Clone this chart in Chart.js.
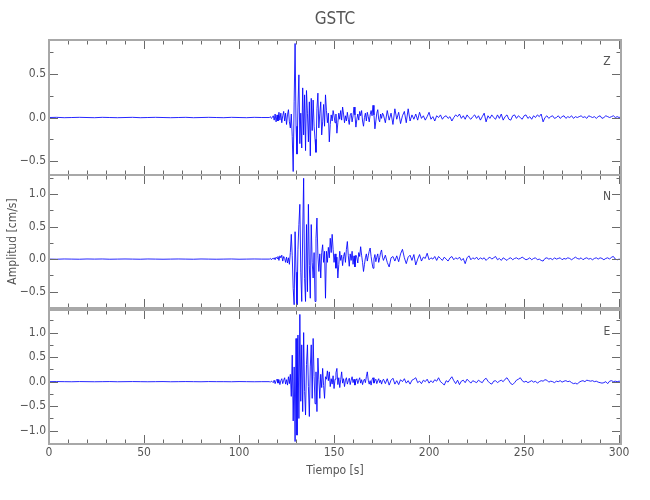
<!DOCTYPE html>
<html><head><meta charset="utf-8">
<script src="https://cdn.jsdelivr.net/npm/chart.js@4.4.1/dist/chart.umd.min.js"></script>
<style>
html,body{margin:0;padding:0;background:#fff;}
#wrap{position:relative;width:650px;height:500px;}
#wrap canvas{position:absolute;left:0;top:0;}
</style></head><body>
<div id="wrap">
<canvas id="cZ" width="650" height="500"></canvas>
<canvas id="cN" width="650" height="500"></canvas>
<canvas id="cE" width="650" height="500"></canvas>
</div>
<script>
// Sampling of the three read-off segments: pre-event, strong motion, coda (seconds)
const segStart = [0, 116, 176];
const segStep  = [4, 0.5, 1];

// ---- Z component ----
const preZ = [0.00,0.002,-0.002,0.00,0.002,0.00,-0.002,0.002,0.00,-0.002,0.00,0.002,-0.002,0.00,0.002,0.00,-0.002,0.00,0.002,-0.002,0.00,0.002,0.00,-0.002,0.002,0.00,-0.002,0.002,0.00];
const mainZ = [
 0.00,0.01,-0.01,0.00,0.02,-0.03,0.04,-0.05,0.03,-0.04,
 0.06,-0.03,0.05,-0.06,0.02,0.07,-0.04,0.05,-0.08,0.03,
 0.09,-0.05,-0.12,0.04,-0.22,-0.62,0.18,0.85,-0.10,-0.42,
 0.12,0.49,-0.30,0.05,-0.35,0.34,-0.20,0.26,-0.38,0.31,
 0.05,-0.28,0.18,-0.44,0.22,-0.15,0.20,-0.10,-0.25,-0.40,
 0.10,0.28,-0.12,0.05,0.18,-0.20,-0.05,0.15,-0.10,0.26,
 0.08,-0.06,0.05,-0.28,-0.08,0.03,-0.04,0.08,0.02,-0.06,
 0.04,-0.18,-0.06,0.05,-0.02,0.08,-0.03,0.12,0.04,-0.06,
 0.02,-0.04,0.06,-0.02,-0.08,0.03,0.05,-0.05,0.02,0.12,
 0.03,-0.11,-0.02,0.04,-0.03,0.07,0.02,0.08,-0.04,-0.10,
 0.00,0.05,-0.04,0.06,0.01,-0.05,0.03,0.08,0.02,0.14,
 0.03,-0.13,-0.04,0.05,0.09,-0.02,-0.05,0.04,-0.01,0.05];
const codaZ = [
 0.03,-0.06,0.08,-0.03,0.05,-0.08,0.10,-0.02,0.06,-0.07,
 0.02,0.07,-0.06,0.10,-0.04,0.03,-0.02,0.04,-0.03,0.06,
 -0.01,0.02,-0.03,0.01,0.06,-0.02,0.01,-0.04,0.02,0.00,
 0.03,-0.02,0.01,0.02,-0.01,0.01,-0.04,0.00,0.03,0.01,
 0.04,-0.01,0.02,-0.02,0.03,0.00,-0.02,0.01,0.03,-0.01,
 0.02,-0.03,0.01,0.05,-0.05,0.02,-0.01,0.03,0.00,-0.02,
 0.03,-0.01,0.04,-0.03,0.01,0.03,-0.02,-0.03,0.02,0.03,
 -0.01,0.02,0.00,-0.02,0.02,0.03,-0.01,0.01,-0.02,0.02,
 0.00,0.03,0.01,0.04,-0.05,0.00,0.02,-0.01,0.01,0.02,
 -0.01,0.00,0.02,-0.01,0.01,0.02,-0.01,0.01,0.00,0.02,
 -0.01,0.01,0.00,0.01,0.02,0.00,0.01,-0.01,0.02,0.01,
 0.00,0.01,-0.01,0.01,0.02,-0.01,0.00,0.02,0.01,0.00,
 0.01,0.02,0.00,0.01,0.00,0.01];

// ---- N component ----
const preN = [0.00,-0.002,0.002,0.00,-0.002,0.002,0.00,0.002,-0.002,0.00,0.002,0.00,-0.002,0.002,0.00,-0.002,0.00,0.002,0.00,-0.002,0.002,0.00,-0.002,0.00,0.002,-0.002,0.00,0.002,0.00];
const mainN = [
 0.00,0.01,-0.01,0.01,0.00,0.02,-0.01,0.03,0.01,0.04,
 -0.02,0.05,0.02,0.06,-0.03,0.04,0.01,-0.05,0.03,-0.06,
 0.02,-0.08,0.10,0.38,0.05,-0.45,-0.70,0.42,-0.20,-0.70,
 0.15,0.53,0.84,-0.20,-0.65,0.40,1.24,-0.30,-0.65,0.53,
 -0.50,0.84,-0.10,-0.60,0.53,-0.05,-0.29,0.10,-0.65,0.32,
 0.63,0.05,-0.19,0.08,-0.29,0.10,0.22,-0.05,0.12,-0.60,
 0.12,-0.05,0.18,0.02,0.32,0.10,0.38,0.15,-0.05,0.08,
 -0.14,0.03,-0.29,-0.08,0.12,-0.02,0.06,-0.10,0.04,0.10,
 -0.05,0.15,0.27,0.05,-0.11,0.08,-0.02,0.12,-0.08,0.05,
 -0.12,0.06,0.02,-0.06,0.10,0.04,0.19,0.06,-0.05,-0.19,
 -0.08,0.02,0.08,-0.03,0.05,0.12,0.17,0.04,-0.06,-0.14,
 0.00,0.07,-0.04,0.03,0.08,-0.05,0.02,0.10,0.14,0.03];
const codaN = [
 -0.02,0.06,-0.05,-0.12,0.02,0.04,-0.03,0.05,-0.04,0.08,
 0.15,0.02,-0.07,0.03,0.06,-0.02,0.07,-0.09,0.00,0.07,
 -0.03,0.03,0.01,0.09,-0.01,0.02,0.00,0.04,-0.02,0.04,
 0.01,-0.02,0.03,0.00,-0.03,0.02,0.04,-0.01,0.02,0.00,
 0.03,-0.02,0.01,-0.07,0.02,0.05,-0.01,0.02,0.00,0.03,
 -0.01,0.02,0.00,0.02,-0.02,0.01,0.03,0.00,0.02,0.04,
 -0.01,0.01,-0.02,0.02,0.00,-0.02,0.01,0.02,-0.01,0.01,
 0.02,0.00,0.01,0.03,0.01,-0.01,0.00,0.02,-0.01,0.01,
 0.02,-0.01,0.00,-0.02,-0.03,0.01,0.02,0.00,0.01,-0.01,
 0.02,0.00,0.01,0.02,-0.01,0.01,0.00,0.02,0.01,-0.01,
 0.01,0.03,0.01,0.00,0.02,-0.01,0.01,0.02,0.00,0.01,
 -0.01,0.01,0.02,0.00,0.02,0.01,-0.01,0.01,0.02,0.00,
 0.03,0.04,0.00,-0.01,0.00,-0.01];

// ---- E component ----
const preE = [0.00,0.002,0.00,-0.002,0.002,0.00,-0.002,0.00,0.002,-0.002,0.00,0.002,0.00,-0.002,0.00,0.002,-0.002,0.00,0.002,0.00,-0.002,0.002,0.00,0.00,-0.002,0.002,0.00,-0.002,0.00];
const mainE = [
 0.00,-0.01,0.01,0.00,-0.02,0.03,-0.04,0.02,0.05,-0.03,
 0.04,-0.06,0.02,0.06,-0.04,0.03,0.08,-0.05,0.04,-0.07,
 0.10,-0.04,0.15,-0.30,0.54,-0.80,0.30,-1.22,0.88,-1.09,
 0.95,-0.75,1.37,-0.40,0.75,-0.61,1.00,-0.20,-0.68,0.35,
 0.75,-0.10,-0.71,0.30,0.75,-0.34,0.88,0.10,-0.45,0.20,
 -0.61,0.48,0.05,-0.34,0.15,-0.12,0.27,-0.08,-0.34,0.10,
 0.05,0.22,0.02,0.20,-0.10,0.06,-0.05,0.12,-0.14,0.05,
 0.18,0.27,-0.06,0.08,-0.12,0.04,0.20,-0.03,0.06,-0.10,
 0.03,0.08,-0.05,0.02,0.07,-0.06,0.03,0.10,-0.02,0.05,
 -0.07,0.02,0.06,-0.04,0.03,0.08,-0.03,0.04,-0.06,0.02,
 0.05,-0.02,0.10,0.20,0.03,-0.05,0.02,-0.07,0.04,0.08,
 -0.03,0.02,0.05,-0.04,0.02,0.06,-0.02,0.03,-0.05,0.02];
const codaE = [
 0.05,-0.04,0.06,-0.07,0.03,0.07,-0.05,0.02,-0.06,0.04,
 0.00,0.06,-0.03,0.02,-0.05,0.03,0.05,0.08,-0.02,0.01,
 -0.04,0.03,0.00,0.05,-0.03,0.02,-0.02,0.04,0.01,0.08,
 0.00,-0.03,-0.07,0.02,-0.01,0.05,0.10,0.02,-0.04,0.03,
 -0.06,0.01,0.03,-0.02,0.05,0.01,-0.03,0.02,0.00,-0.02,
 0.03,0.00,-0.02,0.04,0.07,0.01,-0.03,-0.05,0.01,0.02,
 -0.02,0.01,0.03,0.00,0.05,0.08,0.02,-0.04,-0.06,-0.02,
 0.03,0.05,0.08,0.02,-0.01,0.01,-0.02,0.00,0.02,-0.01,
 0.01,-0.03,0.00,0.02,0.01,0.04,0.03,-0.01,0.01,0.00,
 -0.02,0.01,0.00,0.02,-0.01,0.01,0.02,0.00,0.01,-0.02,
 -0.04,-0.03,-0.05,-0.01,0.01,0.02,0.00,0.03,0.02,0.01,
 0.02,0.00,0.01,-0.01,-0.02,-0.03,-0.02,0.00,-0.04,0.01,
 0.02,0.00,0.01,0.00,0.01,0.00];

// Axis ranges and labels
const xRange = [0, 301];
const yRangeZ = [-0.66, 0.89];
const yRangeN = [-0.75, 1.29];
const yRangeE = [-1.27, 1.46];
const compLabels = ['Z', 'N', 'E'];
const titleText = 'GSTC';
const xTitleText = 'Tiempo [s]';
const yTitleText = 'Amplitud [cm/s]';

// ---------------------------------------------------------------
const FONT = "'Liberation Sans Narrow','DejaVu Sans Condensed','Liberation Sans',sans-serif";
const TXT = '#555555';
const FRAME = '#a8a8a8';
const TICKC = '#6a6a6a';
const TRACE = 'rgba(0,0,255,0.85)';

function series(pre, main, coda){
  const pts = [];
  [pre, main, coda].forEach((vals, k) => vals.forEach((v, i) => pts.push({x: segStart[k] + i*segStep[k], y: v})));
  return pts;
}
function isMult(v, s){ return Math.abs(v/s - Math.round(v/s)) < 1e-6; }
function fmtY(v){
  if (!isMult(v, 0.5)) return '';
  const s = Math.abs(v).toFixed(1);
  return v < -1e-9 ? '\u2212' + s : s;
}

const framePlugin = {
  id: 'frame',
  afterDatasetsDraw(chart, args, opts){
    const {ctx, chartArea: a, scales: {x, y}} = chart;
    ctx.save();
    ctx.strokeStyle = TICKC; ctx.lineWidth = 1;
    ctx.beginPath();
    x.ticks.forEach(t => {
      if (!isMult(t.value, 10)) return;
      const px = Math.round(x.getPixelForValue(t.value)) + 0.5;
      const L = isMult(t.value, 50) ? 9 : 4.5;
      ctx.moveTo(px, a.top); ctx.lineTo(px, a.top + L);
      ctx.moveTo(px, a.bottom); ctx.lineTo(px, a.bottom - L);
    });
    y.ticks.forEach(t => {
      if (!isMult(t.value, 0.25)) return;
      const py = Math.round(y.getPixelForValue(t.value)) + 0.5;
      const L = isMult(t.value, 0.5) ? 9 : 4.5;
      ctx.moveTo(a.left, py); ctx.lineTo(a.left + L, py);
      ctx.moveTo(a.right, py); ctx.lineTo(a.right - L, py);
    });
    ctx.stroke();
    ctx.strokeStyle = FRAME; ctx.lineWidth = 2;
    ctx.strokeRect(a.left, a.top, a.right - a.left, a.bottom - a.top);
    ctx.fillStyle = TXT; ctx.font = '12px ' + FONT;
    ctx.textAlign = 'center'; ctx.textBaseline = 'middle';
    ctx.fillText(opts.label, a.right - 14, a.top + 22);
    ctx.restore();
  }
};

function makeChart(id, pts, yr, cfg){
  return new Chart(document.getElementById(id), {
    type: 'line',
    data: {datasets: [{data: pts, borderColor: TRACE, borderWidth: 1, pointRadius: 0, tension: 0, fill: false}]},
    options: {
      responsive: false, animation: false, devicePixelRatio: 1, events: [],
      layout: {padding: cfg.padding},
      plugins: {
        legend: {display: false}, tooltip: {enabled: false},
        title: cfg.title || {display: false},
        frame: {label: cfg.label}
      },
      scales: {
        x: {
          type: 'linear', min: xRange[0], max: xRange[1],
          afterFit(s){ s.height = cfg.xHeight; },
          grid: {display: false, drawTicks: false}, border: {display: false},
          ticks: {display: cfg.xLabels, stepSize: 10, includeBounds: false, autoSkip: false, maxRotation: 0, padding: 2,
                  color: TXT, font: {family: FONT, size: 12}, callback: v => isMult(v, 50) ? String(v) : ''},
          title: cfg.xTitle || {display: false}
        },
        y: {
          type: 'linear', min: yr[0], max: yr[1],
          afterFit(s){ s.width = 49; },
          grid: {display: false, drawTicks: false}, border: {display: false},
          ticks: {stepSize: 0.25, includeBounds: false, autoSkip: false, padding: 3,
                  color: TXT, font: {family: FONT, size: 12}, callback: fmtY},
          title: cfg.yTitle || {display: false}
        }
      }
    },
    plugins: [framePlugin]
  });
}

makeChart('cZ', series(preZ, mainZ, codaZ), yRangeZ, {
  label: compLabels[0], padding: {top: 0, left: 0, right: 29, bottom: 325}, xHeight: 0, xLabels: false,
  title: {display: true, text: titleText, color: TXT, fullSize: false,
          font: {family: FONT, size: 17, weight: 'normal'}, padding: {top: 9.6, bottom: 10}}
});
makeChart('cN', series(preN, mainN, codaN), yRangeN, {
  label: compLabels[1], padding: {top: 175, left: 0, right: 29, bottom: 192}, xHeight: 0, xLabels: false,
  yTitle: {display: true, text: yTitleText, color: TXT, font: {family: FONT, size: 12}, padding: {top: 6, bottom: 0}}
});
makeChart('cE', series(preE, mainE, codaE), yRangeE, {
  label: compLabels[2], padding: {top: 310, left: 0, right: 29, bottom: 0}, xHeight: 56, xLabels: true,
  xTitle: {display: true, text: xTitleText, color: TXT, font: {family: FONT, size: 12}, padding: {top: 0, bottom: 21.8}}
});
</script>
</body></html>
